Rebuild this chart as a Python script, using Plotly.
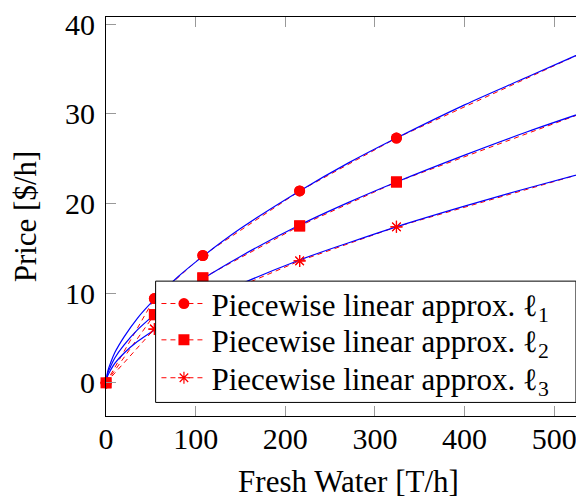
import plotly.graph_objects as go

# Breakpoints of the piecewise linear approximations (x in T/h)
bp_x = [0, 54, 108, 216, 324, 540]
bp_l1 = [0, 9.4, 14.2, 21.4, 27.3, 37.2]
bp_l2 = [0, 7.6, 11.7, 17.5, 22.4, 30.4]
bp_l3 = [0, 6.0, 9.0, 13.6, 17.4, 23.6]

# Exact (blue) curves
cx = [0, 2, 5, 10, 20, 35, 54, 80, 108, 150, 216, 270, 324, 400, 470, 540]
c_l1 = [0, 1.3, 2.2, 3.4, 5.1, 7.2, 9.3, 11.8, 14.1, 17.2, 21.4, 24.5, 27.3, 31.0, 34.1, 37.2]
c_l2 = [0, 1.1, 1.8, 2.8, 4.2, 5.9, 7.6, 9.7, 11.6, 14.1, 17.6, 20.1, 22.4, 25.4, 28.0, 30.4]
c_l3 = [0, 0.8, 1.4, 2.2, 3.3, 4.6, 5.9, 7.5, 9.0, 11.0, 13.7, 15.6, 17.4, 19.7, 21.7, 23.6]

names = ["Piecewise linear approx. ℓ<sub>1</sub>",
         "Piecewise linear approx. ℓ<sub>2</sub>",
         "Piecewise linear approx. ℓ<sub>3</sub>"]
x_ticks = [0, 100, 200, 300, 400, 500]
y_ticks = [0, 10, 20, 30, 40]

RED = "#ff0000"
BLUE = "#0000ff"
FONT = "Liberation Serif"

bps = [bp_l1, bp_l2, bp_l3]
curves = [c_l1, c_l2, c_l3]
symbols = ["circle", "square", "asterisk-open"]
msizes = [11, 11, 10]
legend_ids = ["legend", "legend2", "legend3"]
legend_rows_y = [0.281, 0.190, 0.095]

fig = go.Figure()
for i in range(3):
    mk = dict(symbol=symbols[i], size=msizes[i], color=RED,
              line=dict(color=RED, width=1.2 if symbols[i].startswith("asterisk") else 0))
    fig.add_trace(go.Scatter(x=bp_x, y=bps[i], mode="lines+markers", name=names[i],
                             legend=legend_ids[i],
                             line=dict(color=RED, width=1, dash="5px,4px"),
                             marker=mk))
for i in range(3):
    fig.add_trace(go.Scatter(x=cx, y=curves[i], mode="lines", showlegend=False,
                             line=dict(color=BLUE, width=1.2, shape="spline", smoothing=1.0),
                             hoverinfo="skip"))
for i in range(3):
    mk = dict(symbol=symbols[i], size=msizes[i], color=RED,
              line=dict(color=RED, width=1.2 if symbols[i].startswith("asterisk") else 0))
    fig.add_trace(go.Scatter(x=bp_x, y=bps[i], mode="markers", showlegend=False,
                             marker=mk, hoverinfo="skip", cliponaxis=False))

legend_common = dict(xanchor="left", yanchor="middle", bgcolor="rgba(0,0,0,0)",
                     borderwidth=0, font=dict(family=FONT, size=31), itemwidth=45)
fig.update_layout(
    width=584, height=491,
    margin=dict(l=98, r=0, t=7, b=82),
    plot_bgcolor="white", paper_bgcolor="white",
    font=dict(family=FONT, size=29, color="black"),
    showlegend=True,
    legend=dict(x=0.104, y=legend_rows_y[0], **legend_common),
    legend2=dict(x=0.104, y=legend_rows_y[1], **legend_common),
    legend3=dict(x=0.104, y=legend_rows_y[2], **legend_common),
    shapes=[dict(type="rect", xref="paper", yref="paper",
                 x0=0.1023, x1=0.969, y0=0.034, y1=0.338,
                 fillcolor="white", line=dict(color="black", width=1), layer="above")],
)
fig.update_xaxes(range=[0, 541], tickvals=x_ticks, ticks="inside", ticklen=10,
                 tickcolor="#999999", tickwidth=1,
                 showline=True, linecolor="black", linewidth=1, mirror="ticks",
                 showgrid=False, zeroline=False, ticklabelstandoff=-4,
                 ticklabeloverflow="allow", tickfont=dict(size=30),
                 title=dict(text="Fresh Water [T/h]", font=dict(size=31), standoff=22))
fig.update_yaxes(range=[-3.7, 40.8], tickvals=y_ticks, ticks="inside", ticklen=10,
                 tickcolor="#999999", tickwidth=1,
                 showline=True, linecolor="black", linewidth=1, mirror="ticks",
                 showgrid=False, zeroline=False, ticklabelstandoff=4,
                 ticklabeloverflow="allow", tickfont=dict(size=30),
                 title=dict(text="Price [$/h]", font=dict(size=31), standoff=19))

fig.write_html("out.html")
